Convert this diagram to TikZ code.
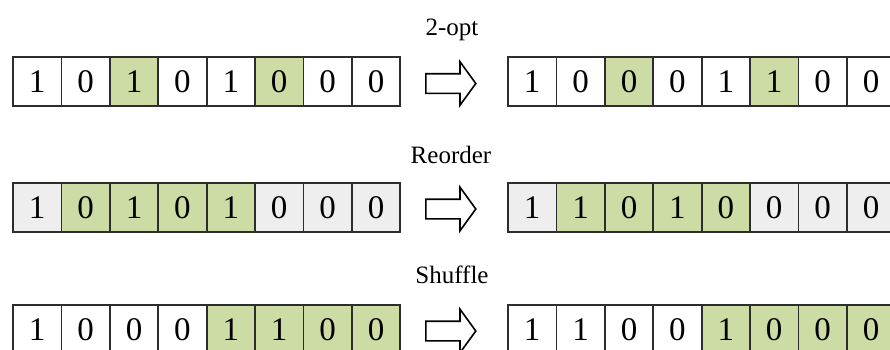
\documentclass[tikz,border=0pt]{standalone}
\usepackage{fontspec}
\setmainfont{Liberation Serif}
\usetikzlibrary{shapes.arrows, positioning}
\definecolor{cellgreen}{RGB}{205,219,165}
\definecolor{cellgray}{RGB}{238,238,238}
\definecolor{cellline}{RGB}{45,45,45}

\begin{document}
\begin{tikzpicture}[
  x=1pt, y=1pt,
  cell/.style={draw=cellline, line width=1.8pt, minimum width=48.4pt, minimum height=49pt,
    inner sep=0pt, font=\fontsize{33}{33}\selectfont},
  move/.style={single arrow, draw=black, line width=1.6pt, fill=white, anchor=tail,
    minimum height=50pt, inner xsep=0pt, inner ysep=9pt,
    single arrow head extend=12pt, single arrow tip angle=108},
  op/.style={font=\fontsize{25}{25}\selectfont}
]
\clip (0,0) rectangle (890,-349);
\useasboundingbox (0,0) rectangle (890,-349);
\fill[white] (0,0) rectangle (890,-349);

% 2-opt
\node[op] (lab1) at (452,-30) {2-opt};
\foreach \v/\c [count=\i] in {1/white,0/white,1/cellgreen,0/white,1/white,0/cellgreen,0/white,0/white}
  \node[cell, fill=\c] (a1-\i) at (13+48.4*\i-24.2,-81.5) {\v};
\node[move] (arr1) at (425,-83.5) {};
\foreach \v/\c [count=\i] in {1/white,0/white,0/cellgreen,0/white,1/white,1/cellgreen,0/white,0/white}
  \node[cell, fill=\c] (b1-\i) at (508+48.4*\i-24.2,-81.5) {\v};

% Reorder
\node[op] (lab2) at (451,-155) {Reorder};
\foreach \v/\c [count=\i] in {1/cellgray,0/cellgreen,1/cellgreen,0/cellgreen,1/cellgreen,0/cellgray,0/cellgray,0/cellgray}
  \node[cell, fill=\c] (a2-\i) at (13+48.4*\i-24.2,-207.5) {\v};
\node[move] (arr2) at (425,-209) {};
\foreach \v/\c [count=\i] in {1/cellgray,1/cellgreen,0/cellgreen,1/cellgreen,0/cellgreen,0/cellgray,0/cellgray,0/cellgray}
  \node[cell, fill=\c] (b2-\i) at (508+48.4*\i-24.2,-207.5) {\v};

% Shuffle
\node[op] (lab3) at (452,-275) {Shuffle};
\foreach \v/\c [count=\i] in {1/white,0/white,0/white,0/white,1/cellgreen,1/cellgreen,0/cellgreen,0/cellgreen}
  \node[cell, fill=\c] (a3-\i) at (13+48.4*\i-24.2,-329.5) {\v};
\node[move] (arr3) at (425,-331) {};
\foreach \v/\c [count=\i] in {1/white,1/white,0/white,0/white,1/cellgreen,0/cellgreen,0/cellgreen,0/cellgreen}
  \node[cell, fill=\c] (b3-\i) at (508+48.4*\i-24.2,-329.5) {\v};

\end{tikzpicture}
\end{document}
